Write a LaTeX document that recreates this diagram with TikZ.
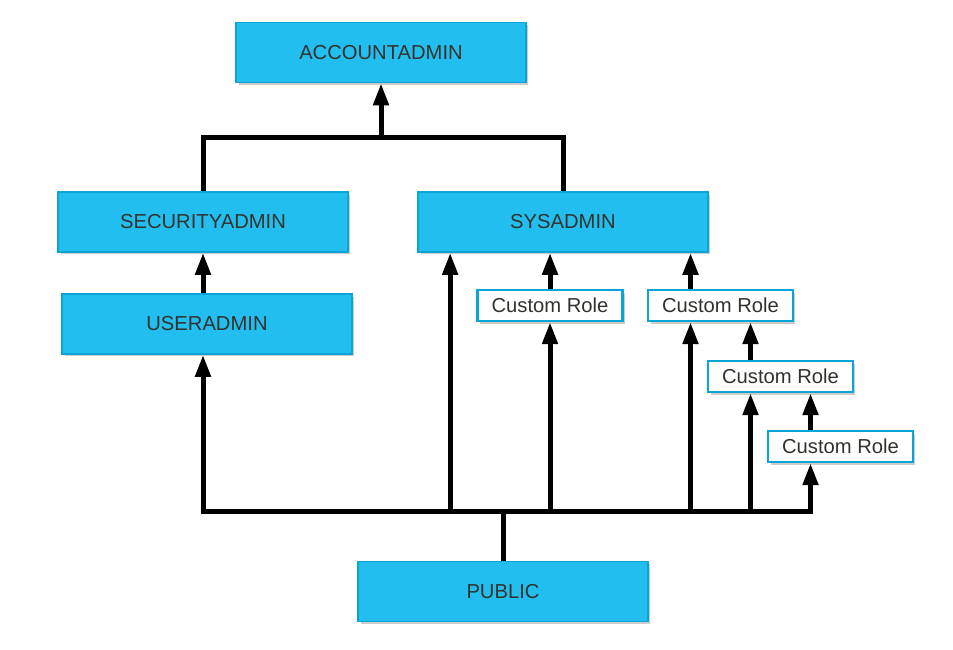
\documentclass[tikz,border=0pt]{standalone}
\usepackage{fontspec}
\setmainfont{Liberation Sans}
\usepackage{xcolor}
\definecolor{RoleBlue}{RGB}{35,190,240}
\definecolor{EdgeBlue}{RGB}{10,165,215}
\definecolor{TextGray}{RGB}{50,50,45}
\usepackage{tikz}
\usetikzlibrary{arrows.meta, positioning, shadows}
\tikzset{
  % Main role box
  rolebox/.style={
    rectangle, draw=EdgeBlue, line width=1pt,
    fill=RoleBlue, text=TextGray,
    minimum width=5.8cm, minimum height=1.2cm,
    font=\fontsize{11.5}{14}\selectfont,
    drop shadow={shadow xshift=0.05cm, shadow yshift=-0.05cm, fill=black!40, opacity=0.5}
  },
  % Custom role box
  customrole/.style={rolebox, fill=white, line width=1.4pt,
    minimum width=2.9cm, minimum height=0.62cm},
  % Connectors
  wire/.style={line width=0.1cm, black},
  arr/.style={wire, -{Triangle[length=0.44cm, width=0.3cm]}},
}

\begin{document}
\begin{tikzpicture}[x=0.02cm, y=-0.02cm]
  \useasboundingbox (0,0) rectangle (953,649);

  % Roles
  \node[rolebox] (acc)    at (381,52.5)  {ACCOUNTADMIN};
  \node[rolebox] (sec)    at (203,222)   {SECURITYADMIN};
  \node[rolebox] (sys)    at (563,222)   {SYSADMIN};
  \node[rolebox] (user)   at (207,324)   {USERADMIN};
  \node[rolebox] (public) at (503,591.5) {PUBLIC};

  \node[customrole] (cr1) at (550,305.5) {Custom Role};
  \node[customrole] (cr2) at (720.5,305.5) {Custom Role};
  \node[customrole] (cr3) at (780.5,376.5) {Custom Role};
  \node[customrole] (cr4) at (840.5,446.5) {Custom Role};

  \coordinate (top) at (381,137);
  \coordinate (bus) at (503,511);

  % Upper bracket
  \draw[wire] (sec.north) |- (top) -| (sys.north);
  \draw[arr] (top) -- (acc.south);
  \draw[arr] (sec.south |- user.north) -- (sec.south);

  % Custom roles upward
  \draw[arr] (cr1.north) -- (cr1.north |- sys.south);
  \draw[arr] ([xshift=-0.6cm]cr2.north) -- ([xshift=-0.6cm]cr2.north |- sys.south);
  \draw[arr] ([xshift=-0.6cm]cr3.north) -- ([xshift=-0.6cm]cr3.north |- cr2.south);
  \draw[arr] ([xshift=-0.6cm]cr4.north) -- ([xshift=-0.6cm]cr4.north |- cr3.south);

  % PUBLIC bus
  \draw[wire] (public.north) -- (bus);
  \draw[arr] (bus) -| ([xshift=-0.08cm]user.south);
  \draw[arr] (bus) -| ([xshift=-0.6cm]cr4.south);
  \draw[arr] ([xshift=0.66cm]sys.south west |- bus) -- ([xshift=0.66cm]sys.south west);
  \draw[arr] (cr1.south |- bus) -- (cr1.south);
  \draw[arr] ([xshift=-0.6cm]cr2.south |- bus) -- ([xshift=-0.6cm]cr2.south);
  \draw[arr] ([xshift=-0.6cm]cr3.south |- bus) -- ([xshift=-0.6cm]cr3.south);
\end{tikzpicture}
\end{document}
